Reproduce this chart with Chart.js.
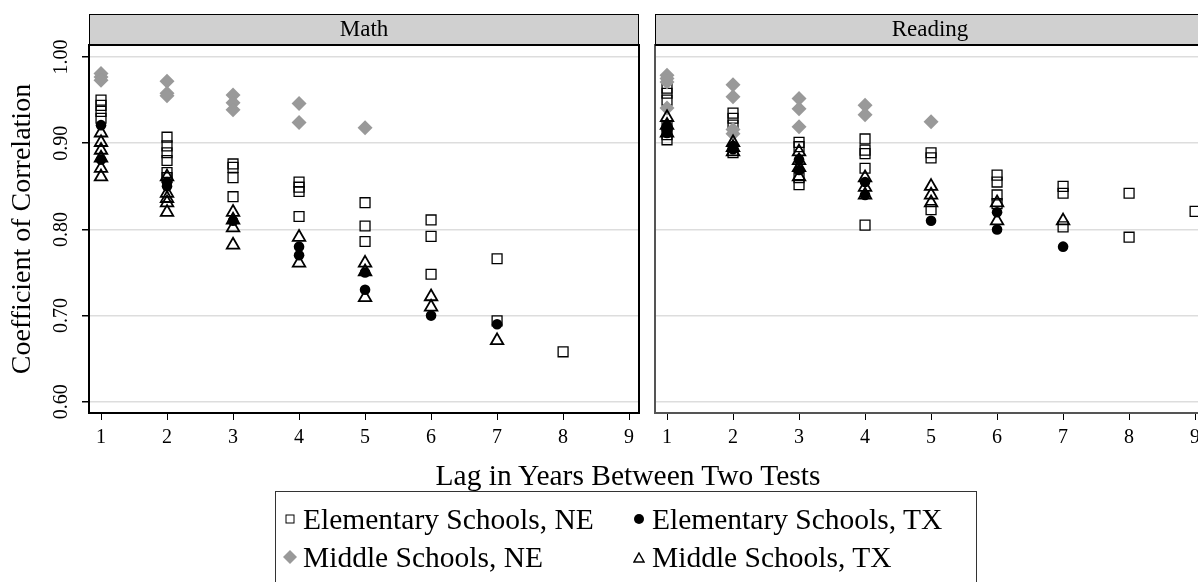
<!DOCTYPE html>
<html>
<head>
<meta charset="utf-8">
<script src="https://cdn.jsdelivr.net/npm/chart.js@4.4.1/dist/chart.umd.min.js"></script>
<style>
  html, body { margin: 0; padding: 0; background: #fff; overflow: hidden; width: 1198px; height: 582px; }
  body { position: relative; font-family: "Liberation Serif", serif; color: #000; }
  canvas { position: absolute; top: 0; }
  #math { left: 0; }
  #reading { left: 645px; }
  .xtitle { position: absolute; left: 328px; width: 600px; top: 458px; text-align: center; font-size: 29.5px; line-height: 34px; }
  .legend { position: absolute; left: 275px; top: 491px; width: 700px; height: 120px; border: 1px solid #333; }
  .lab { position: absolute; font-size: 29.5px; line-height: 34px; white-space: nowrap; }
  .mk { position: absolute; }
</style>
</head>
<body>
<canvas id="math" width="650" height="470"></canvas>
<canvas id="reading" width="570" height="470"></canvas>
<div class="xtitle">Lag in Years Between Two Tests</div>
<div class="legend"></div>
<svg class="mk" style="left:285px;top:514px" width="10" height="10"><rect x="1" y="1" width="8" height="8" fill="none" stroke="#000" stroke-width="1"/></svg>
<span class="lab" style="left:303px;top:502px">Elementary Schools, NE</span>
<svg class="mk" style="left:634px;top:514px" width="10" height="10"><circle cx="5" cy="5" r="5" fill="#000"/></svg>
<span class="lab" style="left:652px;top:502px">Elementary Schools, TX</span>
<svg class="mk" style="left:283px;top:550px" width="14" height="14"><polygon points="7,0 14,7 7,14 0,7" fill="#999"/></svg>
<span class="lab" style="left:303px;top:540px">Middle Schools, NE</span>
<svg class="mk" style="left:633px;top:552px" width="12" height="11"><polygon points="6,1 11,10 1,10" fill="none" stroke="#000" stroke-width="1.5"/></svg>
<span class="lab" style="left:652px;top:540px">Middle Schools, TX</span>

<script>
const panels = ['Math', 'Reading'];
const seriesNames = ['Elementary Schools, NE', 'Middle Schools, NE', 'Elementary Schools, TX', 'Middle Schools, TX'];
const xTicks = [1, 2, 3, 4, 5, 6, 7, 8, 9];
const yTicks = [0.6, 0.7, 0.8, 0.9, 1.0];

// [lag, correlation]
const mathElemNE = [
  [1, .950], [1, .944], [1, .937], [1, .929],
  [2, .907], [2, .897], [2, .889], [2, .880], [2, .866], [2, .860],
  [3, .876], [3, .872], [3, .860], [3, .838],
  [4, .855], [4, .849], [4, .844], [4, .815],
  [5, .831], [5, .804], [5, .786],
  [6, .811], [6, .792], [6, .748],
  [7, .766], [7, .694],
  [8, .658]
];
const mathMidNE = [
  [1, .981], [1, .977], [1, .973],
  [2, .972], [2, .958], [2, .955],
  [3, .956], [3, .947], [3, .939],
  [4, .946], [4, .924],
  [5, .918]
];
const mathElemTX = [
  [1, .921], [1, .881],
  [2, .855], [2, .850],
  [3, .810],
  [4, .780], [4, .770],
  [5, .750], [5, .730],
  [6, .700],
  [7, .690]
];
const mathMidTX = [
  [1, .912], [1, .901], [1, .892], [1, .883], [1, .871], [1, .861],
  [2, .861], [2, .842], [2, .836], [2, .831], [2, .820],
  [3, .820], [3, .811], [3, .802], [3, .782],
  [4, .791], [4, .761],
  [5, .761], [5, .751], [5, .721],
  [6, .722], [6, .710],
  [7, .671]
];

const readElemNE = [
  [1, .964], [1, .958], [1, .950], [1, .920], [1, .910], [1, .904],
  [2, .935], [2, .929], [2, .921], [2, .889],
  [3, .901], [3, .896], [3, .860], [3, .852],
  [4, .905], [4, .892], [4, .888], [4, .871], [4, .805],
  [5, .889], [5, .883], [5, .823],
  [6, .863], [6, .855], [6, .840], [6, .830],
  [7, .850], [7, .842], [7, .803],
  [8, .842], [8, .791],
  [9, .821]
];
const readMidNE = [
  [1, .979], [1, .975], [1, .971], [1, .941],
  [2, .968], [2, .954], [2, .916], [2, .911],
  [3, .952], [3, .940], [3, .919],
  [4, .944], [4, .933],
  [5, .925]
];
const readElemTX = [
  [1, .920], [1, .912],
  [2, .897], [2, .893],
  [3, .881], [3, .869],
  [4, .855], [4, .840],
  [5, .810],
  [6, .820], [6, .800],
  [7, .780]
];
const readMidTX = [
  [1, .930], [1, .921], [1, .912],
  [2, .901], [2, .895], [2, .890],
  [3, .890], [3, .880], [3, .872], [3, .861],
  [4, .860], [4, .849], [4, .840],
  [5, .850], [5, .840], [5, .831],
  [6, .831], [6, .810],
  [7, .810]
];

Chart.defaults.font.family = '"Liberation Serif", serif';
Chart.defaults.color = '#000';

const styles = [
  { pointStyle: 'rect', pointRadius: 7, backgroundColor: 'rgba(0,0,0,0)', borderColor: '#000', borderWidth: 1.3, order: 4 },
  { pointStyle: 'rectRot', pointRadius: 7.5, backgroundColor: '#999', borderColor: '#999', borderWidth: 0, order: 3 },
  { pointStyle: 'circle', pointRadius: 5.3, backgroundColor: '#000', borderColor: '#000', borderWidth: 0, order: 2 },
  { pointStyle: 'triangle', pointRadius: 7.2, backgroundColor: 'rgba(0,0,0,0)', borderColor: '#000', borderWidth: 1.8, order: 1 }
];

const toPts = (arr) => arr.map(([x, y]) => ({ x, y }));

const makeDatasets = (groups) => groups.map((g, i) => ({
  label: seriesNames[i],
  data: toPts(g),
  ...styles[i],
  pointHoverRadius: styles[i].pointRadius
}));

const panelDecor = {
  id: 'panelDecor',
  beforeDraw(chart, args, opts) {
    const { ctx, chartArea: a } = chart;
    ctx.save();
    ctx.fillStyle = '#d0d0d0';
    ctx.fillRect(a.left, 14, a.right - a.left, a.top - 14);
    ctx.strokeStyle = '#000';
    ctx.lineWidth = 1;
    ctx.strokeRect(a.left + 0.5, 14.5, a.right - a.left - 1, a.top - 15);
    ctx.fillStyle = '#000';
    ctx.font = '23px "Liberation Serif"';
    ctx.textAlign = 'center';
    ctx.textBaseline = 'middle';
    ctx.fillText(opts.title, (a.left + a.right) / 2, 30);
    ctx.restore();
  },
  afterDraw(chart, args, opts) {
    const { ctx, chartArea: a } = chart;
    ctx.save();
    ctx.strokeStyle = opts.frame;
    ctx.lineWidth = 2;
    ctx.strokeRect(a.left, a.top, a.right - a.left, a.bottom - a.top);
    ctx.strokeStyle = '#000';
    ctx.beginPath();
    ctx.moveTo(a.left, a.top);
    ctx.lineTo(a.right, a.top);
    ctx.stroke();
    if (opts.yLabels) {
      const ys = chart.scales.y;
      ctx.fillStyle = '#000';
      ctx.font = '20px "Liberation Serif"';
      ctx.textAlign = 'center';
      ctx.textBaseline = 'middle';
      yTicks.forEach((v) => {
        ctx.save();
        ctx.translate(62, ys.getPixelForValue(v));
        ctx.rotate(-Math.PI / 2);
        ctx.fillText(v.toFixed(2), 0, 0);
        ctx.restore();
      });
    }
    ctx.restore();
  }
};

function makePanel(id, title, groups, first) {
  const yWidth = first ? 89 : 10;
  new Chart(document.getElementById(id), {
    type: 'scatter',
    data: { datasets: makeDatasets(groups) },
    plugins: [panelDecor],
    options: {
      responsive: false,
      animation: false,
      devicePixelRatio: 1,
      layout: { padding: { top: 45, right: first ? 11 : 10, bottom: 0, left: 0 } },
      plugins: {
        legend: { display: false },
        tooltip: { enabled: false },
        panelDecor: { title, frame: first ? '#000' : '#555', yLabels: first }
      },
      scales: {
        x: {
          type: 'linear',
          min: 0.818,
          max: 9.15,
          afterBuildTicks: (s) => { s.ticks = xTicks.map((v) => ({ value: v })); },
          afterFit: (s) => { s.height = 57; },
          ticks: { font: { size: 20 }, padding: 6, color: '#000', callback: (v) => String(v) },
          grid: { drawOnChartArea: false, drawTicks: true, tickLength: 7, tickColor: '#000' },
          border: { display: false }
        },
        y: {
          type: 'linear',
          min: 0.587,
          max: 1.014,
          afterBuildTicks: (s) => { s.ticks = yTicks.map((v) => ({ value: v })); },
          afterFit: (s) => { s.width = yWidth; },
          ticks: { display: false },
          title: first ? { display: true, text: 'Coefficient of Correlation', font: { size: 28 }, padding: { top: 6, bottom: 0 }, color: '#000' } : { display: false },
          grid: { color: '#dddddd', lineWidth: 1.5, drawTicks: first, tickLength: 7, tickColor: '#000' },
          border: { display: false }
        }
      }
    }
  });
}

makePanel('math', panels[0], [mathElemNE, mathMidNE, mathElemTX, mathMidTX], true);
makePanel('reading', panels[1], [readElemNE, readMidNE, readElemTX, readMidTX], false);
</script>
</body>
</html>
